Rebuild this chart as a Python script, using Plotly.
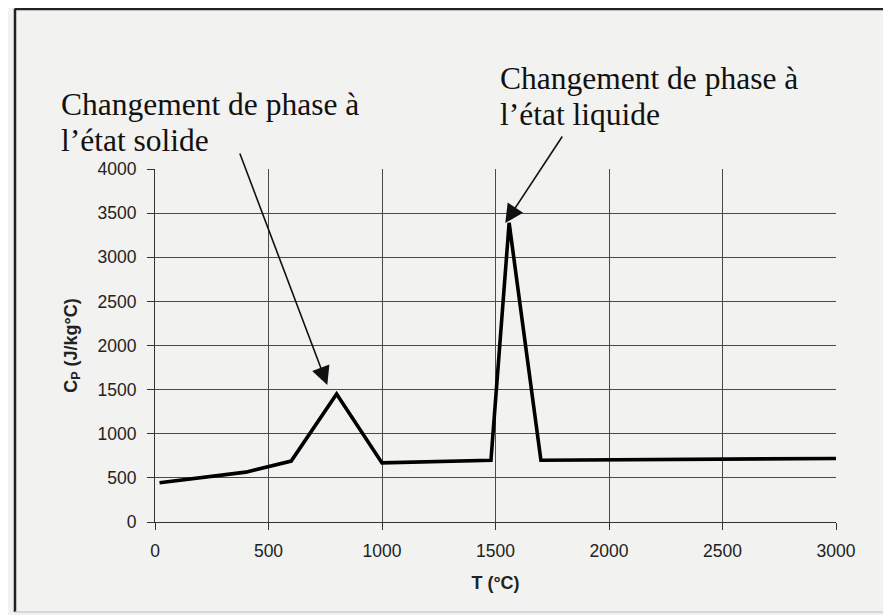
import plotly.graph_objects as go

# Data
T = [20, 400, 600, 800, 1000, 1480, 1560, 1700, 3000]
Cp = [445, 565, 690, 1450, 670, 700, 3390, 700, 720]

x_ticks = [0, 500, 1000, 1500, 2000, 2500, 3000]
y_ticks = [0, 500, 1000, 1500, 2000, 2500, 3000, 3500, 4000]

solid_lines = ["Changement de phase à", "l’état solide"]
liquid_lines = ["Changement de phase à", "l’état liquide"]

bg = "#f2f2f0"

# Page has an 8px body margin: work in screen pixels and convert
OFF = 8
W, H = 883, 607
L, R, TOP, B = 147, 55, 161, 93
PW, PH = W - L - R, H - TOP - B


def px(X):
    return (X - OFF - L) / PW


def py(Y):
    return (H - B - (Y - OFF)) / PH


fig = go.Figure()
fig.add_trace(go.Scatter(x=T, y=Cp, mode="lines",
                         line=dict(color="black", width=3.6),
                         showlegend=False, hoverinfo="skip"))

fig.update_layout(
    width=W, height=H,
    paper_bgcolor=bg, plot_bgcolor=bg,
    margin=dict(l=L, r=R, t=TOP, b=B),
    font=dict(family="Liberation Sans, Arial", color="#222"),
    showlegend=False,
)
axis_font = dict(size=17.5, family="Liberation Sans, Arial", color="#222")
title_font = dict(size=18, family="Liberation Sans, Arial", color="#222")
fig.update_xaxes(
    range=[0, 3000], tickvals=x_ticks, ticktext=[str(v) for v in x_ticks],
    showgrid=True, gridcolor="#4a4a4a", gridwidth=1,
    showline=True, linecolor="#333", linewidth=1.2,
    ticks="outside", ticklen=7, tickcolor="#333", ticklabelstandoff=6,
    tickfont=axis_font,
    title=dict(text="<b>T (°C)</b>", font=title_font, standoff=16),
    zeroline=False,
)
fig.update_yaxes(
    range=[0, 4000], tickvals=y_ticks, ticktext=[str(v) for v in y_ticks],
    showgrid=True, gridcolor="#4a4a4a", gridwidth=1,
    showline=True, linecolor="#333", linewidth=1.2,
    ticks="outside", ticklen=7, tickcolor="#333", ticklabelstandoff=7,
    tickfont=axis_font,
    title=dict(text="<b>C<sub>P</sub> (J/kg°C)</b>", font=title_font, standoff=15),
    zeroline=False,
)

serif = dict(family="Liberation Serif, Times New Roman", size=31.5, color="#111")
# (text, left x, centre y) in screen pixels
text_rows = [
    (solid_lines[0], 59, 105),
    (solid_lines[1], 59, 140),
    (liquid_lines[0], 498, 79),
    (liquid_lines[1], 498, 114),
]
for txt, X, Y in text_rows:
    fig.add_annotation(x=px(X), y=py(Y), xref="paper", yref="paper", text=txt,
                       showarrow=False, xanchor="left", yanchor="middle",
                       align="left", font=serif)

# Arrows pointing at the two peaks
fig.add_annotation(x=759, y=1552, text="", showarrow=True, ax=-88, ay=-233,
                   arrowhead=2, arrowsize=2.3, arrowwidth=1.6, arrowcolor="#111")
fig.add_annotation(x=1543, y=3388, text="", showarrow=True, ax=58, ay=-88,
                   arrowhead=2, arrowsize=2.3, arrowwidth=1.6, arrowcolor="#111")

# Frame around the figure
fig.add_shape(type="line", xref="paper", yref="paper",
              x0=px(15), x1=px(15), y0=py(612), y1=py(8.5),
              line=dict(color="#222", width=2.5))
fig.add_shape(type="line", xref="paper", yref="paper",
              x0=px(15), x1=px(891), y0=py(9), y1=py(9),
              line=dict(color="#222", width=2.5))
fig.add_shape(type="line", xref="paper", yref="paper",
              x0=px(15), x1=px(891), y0=py(612), y1=py(612),
              line=dict(color="#ccc", width=1.5))

fig.write_html("out.html")
